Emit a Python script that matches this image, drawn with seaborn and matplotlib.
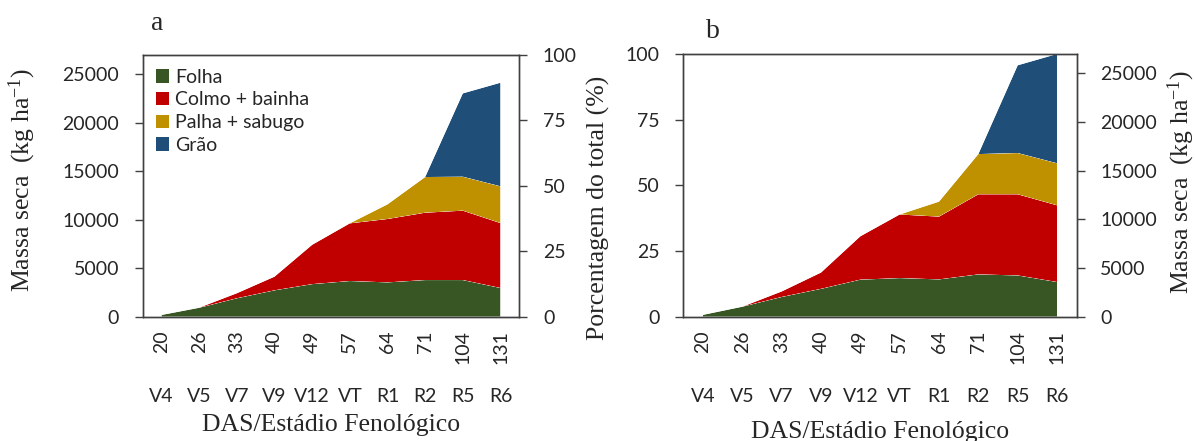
import matplotlib
matplotlib.use("Agg")
import matplotlib.pyplot as plt
import matplotlib.transforms as mtransforms
from matplotlib.patches import Patch
import numpy as np
import pandas as pd
import seaborn as sns
import seaborn.objects as so

# Dias após a semeadura e estádios fenológicos
das = ["20", "26", "33", "40", "49", "57", "64", "71", "104", "131"]
estadios = ["V4", "V5", "V7", "V9", "V12", "VT", "R1", "R2", "R5", "R6"]
componentes = ["Folha", "Colmo + bainha", "Palha + sabugo", "Grão"]
cores = ["#375623", "#C00000", "#BF9000", "#1F4E79"]

# (a) massa seca acumulada por componente, kg ha-1
folha_a = [180, 920, 1900, 2720, 3360, 3680, 3540, 3780, 3780, 2960]
colmo_a = [0, 10, 520, 1410, 4060, 5950, 6540, 6950, 7160, 6700]
palha_a = [0, 0, 0, 0, 0, 0, 1510, 3680, 3500, 3790]
grao_a = [0, 0, 0, 0, 0, 0, 0, 0, 8600, 10690]

# (b) porcentagem do total acumulado, %
folha_b = [0.7, 3.8, 7.5, 10.6, 14.1, 14.7, 14.2, 16.1, 15.7, 13.2]
colmo_b = [0, 0, 2.1, 6.2, 16.5, 24.2, 23.9, 30.5, 30.9, 29.2]
palha_b = [0, 0, 0, 0, 0, 0, 5.7, 15.3, 15.7, 16.0]
grao_b = [0, 0, 0, 0, 0, 0, 0, 0, 33.4, 41.6]

KG_MAX = 27000  # 100 % do total

sns.set_theme(style="white")
plt.rcParams["font.family"] = ["Lato", "DejaVu Sans"]
plt.rcParams["mathtext.fontset"] = "custom"
plt.rcParams["mathtext.rm"] = "Liberation Serif"
plt.rcParams["mathtext.it"] = "Liberation Serif:italic"

SERIF = "Liberation Serif"
EDGE = "#404040"
TICK_FS = 14
LABEL_FS = 18.5


def long_table(series):
    pos = np.arange(len(das))
    frames = []
    for nome, vals in zip(componentes, series):
        frames.append(pd.DataFrame({"pos": pos, "valor": vals, "componente": nome}))
    return pd.concat(frames, ignore_index=True)


def stacked_area(ax, df, ymax):
    (
        so.Plot(df, x="pos", y="valor", color="componente")
        .add(so.Area(alpha=1, edgewidth=0), so.Stack(), legend=False)
        .scale(color=so.Nominal(dict(zip(componentes, cores)), order=componentes))
        .limit(x=(-0.5, len(das) - 0.5), y=(0, ymax))
        .label(x="", y="")
        .on(ax)
        .plot()
    )


def style_frame(ax):
    ax.set_facecolor("white")
    ax.grid(False)
    for sp in ax.spines.values():
        sp.set_visible(True)
        sp.set_color(EDGE)
        sp.set_linewidth(1.0)


def style_yticks(ax, side):
    ax.tick_params(axis="y", which="both", direction="out", length=6, width=1.0,
                   color=EDGE, labelsize=TICK_FS, labelcolor="#262626", pad=11,
                   left=(side == "left"), right=(side == "right"),
                   labelleft=(side == "left"), labelright=(side == "right"))


def style_xaxis(ax):
    ax.set_xticks(np.arange(len(das)))
    ax.set_xticklabels(das, rotation=90, fontsize=TICK_FS, color="#262626")
    ax.tick_params(axis="x", length=0, pad=10)
    trans = mtransforms.blended_transform_factory(ax.transData, ax.figure.transFigure)
    for i, s in enumerate(estadios):
        ax.text(i, 1 - 397 / 441, s, transform=trans, ha="center", va="center",
                fontsize=TICK_FS, color="#262626")


fig = plt.figure(figsize=(11.95, 4.41), dpi=100)
ax_a = fig.add_axes([142.7 / 1195, 1 - 316.7 / 441, 376.6 / 1195, 261.7 / 441])
ax_b = fig.add_axes([683.3 / 1195, 1 - 316.7 / 441, 393.4 / 1195, 262.7 / 441])

# ---- (a) massa seca (eixo esquerdo) e porcentagem (eixo direito)
stacked_area(ax_a, long_table([folha_a, colmo_a, palha_a, grao_a]), KG_MAX)
style_frame(ax_a)
ax_a.set_yticks(np.arange(0, 25001, 5000))
style_yticks(ax_a, "left")
style_xaxis(ax_a)
ax_a2 = ax_a.twinx()
ax_a2.set_ylim(0, 100)
ax_a2.set_yticks(np.arange(0, 101, 25))
style_frame(ax_a2)
ax_a2.set_facecolor("none")
style_yticks(ax_a2, "right")

handles = [Patch(facecolor=c, edgecolor="none", label=n) for n, c in zip(componentes, cores)]
ax_a.legend(handles=handles, loc="upper left", bbox_to_anchor=(0.035, 0.948),
            borderaxespad=0, borderpad=0, frameon=False, fontsize=TICK_FS,
            handlelength=0.7, handleheight=0.7, handletextpad=0.3,
            labelspacing=0.3, labelcolor="#262626")

# ---- (b) porcentagem (eixo esquerdo) e massa seca (eixo direito)
stacked_area(ax_b, long_table([folha_b, colmo_b, palha_b, grao_b]), 100)
style_frame(ax_b)
ax_b.set_yticks(np.arange(0, 101, 25))
style_yticks(ax_b, "left")
style_xaxis(ax_b)
ax_b2 = ax_b.twinx()
ax_b2.set_ylim(0, KG_MAX)
ax_b2.set_yticks(np.arange(0, 25001, 5000))
style_frame(ax_b2)
ax_b2.set_facecolor("none")
style_yticks(ax_b2, "right")

# ---- títulos e rótulos dos eixos
fig.text(157 / 1195, 1 - 24 / 441, "a", family=SERIF, fontsize=20, ha="center", va="center")
fig.text(713 / 1195, 1 - 32 / 441, "b", family=SERIF, fontsize=20, ha="center", va="center")

kg_label = "Massa seca  (kg ha$^{\\mathregular{-1}}$)"
fig.text(22 / 1195, 1 - 180 / 441, kg_label, family=SERIF, fontsize=LABEL_FS,
         rotation=90, ha="center", va="center")
fig.text(598 / 1195, 1 - 208 / 441, "Porcentagem do total (%)", family=SERIF,
         fontsize=LABEL_FS, rotation=90, ha="center", va="center")
fig.text(1181 / 1195, 1 - 182 / 441, kg_label, family=SERIF, fontsize=LABEL_FS,
         rotation=90, ha="center", va="center")

fig.text((142.7 + 376.6 / 2) / 1195, 1 - 425 / 441, "DAS/Estádio Fenológico",
         family=SERIF, fontsize=LABEL_FS, ha="center", va="center")
fig.text((683.3 + 393.4 / 2) / 1195, 1 - 432 / 441, "DAS/Estádio Fenológico",
         family=SERIF, fontsize=LABEL_FS, ha="center", va="center")

fig.savefig("out.png", dpi=100)
